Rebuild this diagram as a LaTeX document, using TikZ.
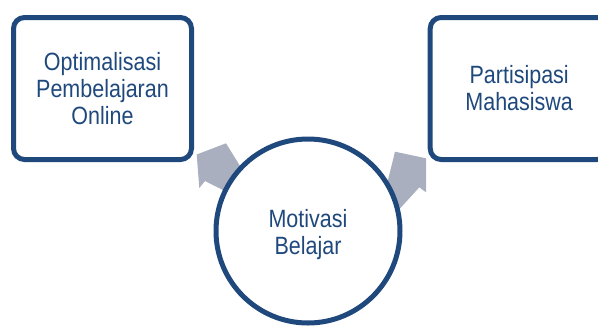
\documentclass[tikz,border=0pt]{standalone}
\usepackage{fontspec}
\usetikzlibrary{calc}
\setmainfont{Liberation Sans}[FakeStretch=0.86]
\definecolor{dblue}{RGB}{31,73,125}
\definecolor{agray}{RGB}{169,175,190}
\tikzset{
  boxnode/.style={draw=dblue, line width=5pt, fill=white, rounded corners=11pt,
    minimum width=178pt, minimum height=142pt, inner sep=0pt,
    align=center, text=dblue, font=\fontsize{25}{27}\selectfont},
  circnode/.style={draw=dblue, line width=5pt, fill=white, circle,
    minimum size=184pt, inner sep=0pt},
  ctext/.style={align=center, text=dblue, font=\fontsize{25}{27}\selectfont, inner sep=0pt},
  blockarrow/.style={fill=agray, draw=none}
}
\begin{document}
\begin{tikzpicture}[x=1pt,y=-1pt]
\path[use as bounding box] (0,0) rectangle (598,325);
\clip (0,0) rectangle (598,325);
\coordinate (cc) at (308,231);
% block arrows (under boxes and circle)
\begin{scope}[shift={(cc)}]
  \fill[blockarrow] (-111.3,-76.5) -- (-82,-87.7) -- (-63,-57) -- (-73,-35)
        -- (-103,-50) -- (-108.7,-43) -- cycle;
  \fill[blockarrow] (87,-79.3) -- (118,-72.7) -- (118,-38.7) -- (111.3,-43.7)
        -- (87,-17) -- (78,-43) -- cycle;
\end{scope}
\node[boxnode] (opt) at (102.5,88.5) {Optimalisasi\\Pembelajaran\\Online};
\node[boxnode] (par) at (519.2,88.5) {Partisipasi\\Mahasiswa};
\node[circnode] (mot) at (cc) {};
\node[ctext] (mott) at ($(cc)+(0,4)$) {Motivasi\\Belajar};
\end{tikzpicture}
\end{document}
